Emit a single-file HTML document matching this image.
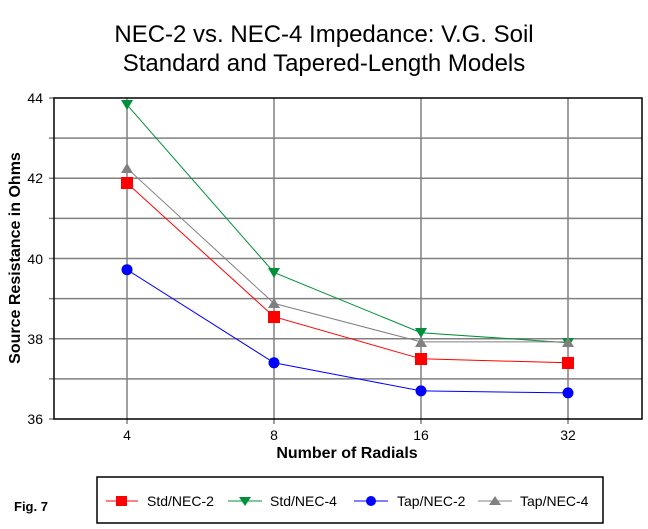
<!DOCTYPE html>
<html><head><meta charset="utf-8"><style>
html,body{margin:0;padding:0;background:#fff;}
svg{display:block;font-family:"Liberation Sans",Arial,sans-serif;}
</style></head><body>
<svg width="648" height="529" viewBox="0 0 648 529" xmlns="http://www.w3.org/2000/svg">
<text x="324" y="42" font-size="24" text-anchor="middle">NEC-2 vs. NEC-4 Impedance: V.G. Soil</text>
<text x="324" y="71" font-size="24" text-anchor="middle">Standard and Tapered-Length Models</text>
<g stroke="#808080" stroke-width="1.5">
<line x1="49" y1="138.1" x2="642" y2="138.1"/>
<line x1="49" y1="178.3" x2="642" y2="178.3"/>
<line x1="49" y1="218.4" x2="642" y2="218.4"/>
<line x1="49" y1="258.5" x2="642" y2="258.5"/>
<line x1="49" y1="298.6" x2="642" y2="298.6"/>
<line x1="49" y1="338.8" x2="642" y2="338.8"/>
<line x1="49" y1="378.9" x2="642" y2="378.9"/>
<line x1="49" y1="98" x2="54" y2="98"/>
<line x1="49" y1="419" x2="54" y2="419"/>
<line x1="127" y1="98" x2="127" y2="424"/>
<line x1="274" y1="98" x2="274" y2="424"/>
<line x1="421" y1="98" x2="421" y2="424"/>
<line x1="568" y1="98" x2="568" y2="424"/>
</g>
<rect x="54" y="98" width="588" height="321" fill="none" stroke="#000" stroke-width="1.5"/>
<g font-size="14" text-anchor="end">
<text x="43" y="103">44</text><text x="43" y="183">42</text><text x="43" y="264">40</text><text x="43" y="344">38</text><text x="43" y="424">36</text>
</g>
<g font-size="14" text-anchor="middle">
<text x="127" y="440">4</text><text x="274" y="440">8</text><text x="421" y="440">16</text><text x="568" y="440">32</text>
</g>
<text x="347" y="458" font-size="16" font-weight="bold" text-anchor="middle">Number of Radials</text>
<text transform="translate(20,258) rotate(-90)" font-size="16" font-weight="bold" text-anchor="middle">Source Resistance in Ohms</text>
<polyline fill="none" stroke="#00903a" points="127,104.8 274,272.5 421,332.7 568,342.7"/>
<polyline fill="none" stroke="#808080" points="127,168.2 274,303.4 421,341.9 568,341.9"/>
<polyline fill="none" stroke="#ff0000" points="127,183.1 274,316.7 421,358.8 568,362.8"/>
<polyline fill="none" stroke="#0000ff" points="127,269.7 274,362.8 421,390.9 568,392.9"/>
<g fill="#ff0000"><rect x="121" y="177" width="12" height="12"/><rect x="268" y="311" width="12" height="12"/><rect x="415" y="353" width="12" height="12"/><rect x="562" y="357" width="12" height="12"/></g>
<g fill="#00903a"><polygon points="121,100 133,100 127,110"/><polygon points="268,268 280,268 274,278"/><polygon points="415,328 427,328 421,338"/><polygon points="562,338 574,338 568,348"/></g>
<g fill="#808080"><polygon points="121,173 133,173 127,163"/><polygon points="268,308 280,308 274,298"/><polygon points="415,347 427,347 421,337"/><polygon points="562,347 574,347 568,337"/></g>
<g fill="#0000ff"><circle cx="127" cy="269.7" r="5.5"/><circle cx="274" cy="362.8" r="5.5"/><circle cx="421" cy="390.9" r="5.5"/><circle cx="568" cy="392.9" r="5.5"/></g>
<text x="14" y="511" font-size="13" font-weight="bold">Fig. 7</text>
<rect x="97" y="477" width="506" height="46" fill="none" stroke="#000" stroke-width="1.5"/>
<line x1="106" y1="501" x2="138" y2="501" stroke="#ff0000"/><rect x="116" y="496" width="11" height="10" fill="#ff0000"/>
<text x="147" y="506" font-size="14">Std/NEC-2</text>
<line x1="228" y1="501" x2="262" y2="501" stroke="#00903a"/><polygon points="239,497 251,497 245,506" fill="#00903a"/>
<text x="270" y="506" font-size="14">Std/NEC-4</text>
<line x1="354" y1="501" x2="388" y2="501" stroke="#0000ff"/><circle cx="371" cy="501" r="5" fill="#0000ff"/>
<text x="397" y="506" font-size="14">Tap/NEC-2</text>
<line x1="478" y1="501" x2="512" y2="501" stroke="#808080"/><polygon points="489,505 501,505 495,496" fill="#808080"/>
<text x="520" y="506" font-size="14">Tap/NEC-4</text>
</svg>
</body></html>
